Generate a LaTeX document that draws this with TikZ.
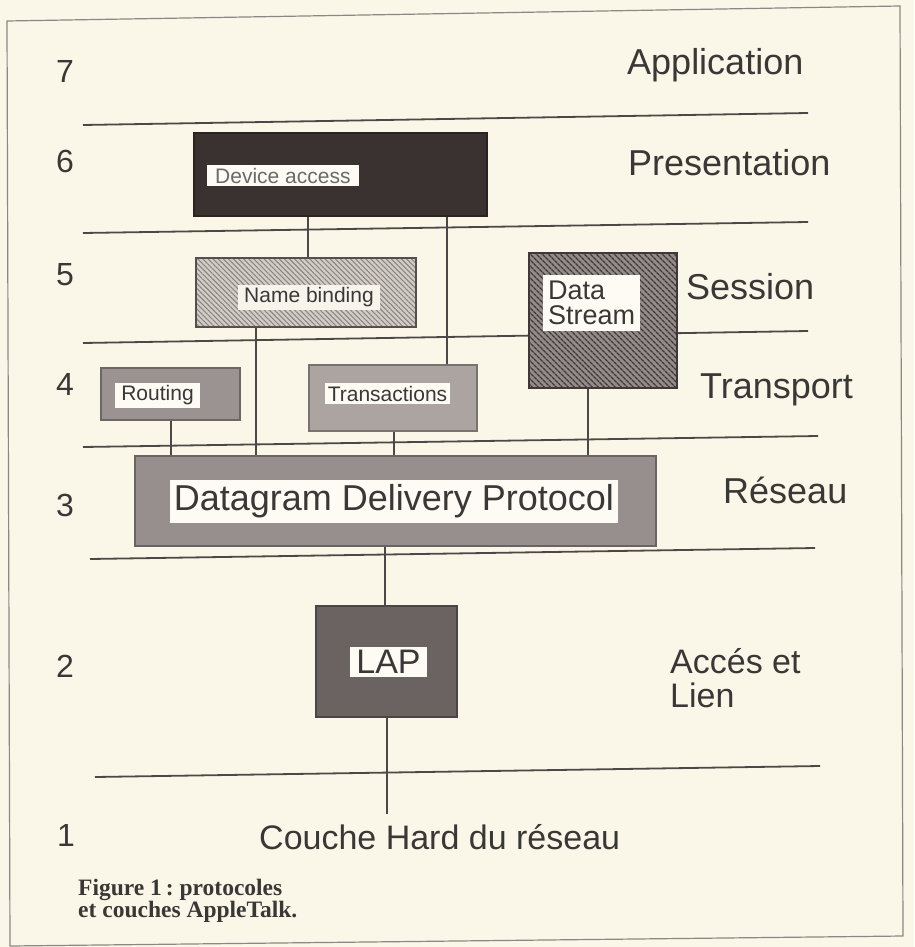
\documentclass[tikz,border=0pt]{standalone}
\usepackage{fontspec}
\setmainfont{Liberation Sans}
\newfontfamily\capfont{Liberation Serif}
\usetikzlibrary{patterns.meta}
\frenchspacing
\definecolor{paper}{HTML}{FAF7E8}
\definecolor{framecol}{HTML}{8A8784}
\definecolor{linecol}{HTML}{4D4848}
\definecolor{txt}{HTML}{3A3737}
\definecolor{lblbg}{HTML}{FDFBF3}
\definecolor{devfill}{HTML}{3A3230}
\definecolor{nbfill}{HTML}{D3CDC7}
\definecolor{nbline}{HTML}{8C8581}
\definecolor{dsfill}{HTML}{948C8A}
\definecolor{dsline}{HTML}{3F3836}
\definecolor{rtfill}{HTML}{9A9391}
\definecolor{trfill}{HTML}{ABA4A1}
\definecolor{ddpfill}{HTML}{978E8E}
\definecolor{lapfill}{HTML}{6B6262}
\tikzset{
  sep/.style={draw=linecol, line width=1.8pt},
  conn/.style={draw=linecol, line width=1.5pt},
  box/.style={draw=#1!70!black, line width=1.4pt, fill=#1, inner sep=0pt},
  lbl/.style={fill=lblbg, text=txt, inner ysep=3pt, inner xsep=6pt, font=\fontsize{21}{24}\selectfont},
  layer/.style={text=txt, inner sep=0pt, anchor=base west, font=\fontsize{36}{34}\selectfont},
  num/.style={text=txt, inner sep=0pt, anchor=base, font=\fontsize{32}{34}\selectfont},
}
\begin{document}
\begin{tikzpicture}[x=1pt,y=-1pt]
\fill[paper] (0,0) rectangle (914,947);
\useasboundingbox (0,0) rectangle (914,947);
% frame
\draw[framecol, line width=1.2pt] (7,21) -- (900,6) -- (903,936) -- (10,946) -- cycle;
% layer separators
\draw[sep] (83,125) -- (808,113);
\draw[sep] (83,233) -- (808,222);
\draw[sep] (83,343) -- (808,331);
\draw[sep] (83,447) -- (818,436);
\draw[sep] (90,559) -- (815,548);
\draw[sep] (95,777) -- (820,766);
% layer numbers
\node[num] (n7) at (65,83) {7};
\node[num] (n6) at (65,172) {6};
\node[num] (n5) at (65,285) {5};
\node[num] (n4) at (65,395) {4};
\node[num] (n3) at (65,516) {3};
\node[num] (n2) at (65,677) {2};
\node[num] (n1) at (66,846) {1};
% layer names
\node[layer] (l7) at (627,75) {Application};
\node[layer] (l6) at (628,175) {Presentation};
\node[layer] (l5) at (686,299) {Session};
\node[layer] (l4) at (700,398) {Transport};
\node[layer] (l3) at (723,503) {Réseau};
\node[layer, anchor=north west, align=left, font=\fontsize{34}{34}\selectfont] (l2) at (670,648) {Accés et\\Lien};
\node[text=txt, inner sep=0pt, anchor=base west, font=\fontsize{34}{34}\selectfont] (hard) at (259,849) {Couche Hard du réseau};
% boxes
\node[box=devfill, minimum width=293pt, minimum height=83pt] (dev) at (340.5,174.5) {};
\node[draw=nbline!60!black, line width=1.4pt, inner sep=0pt, minimum width=220pt, minimum height=69pt,
      preaction={fill=nbfill}, pattern={Lines[angle=-45,distance=3.6pt,line width=1.1pt]}, pattern color=nbline] (nb) at (306,292.5) {};
\node[draw=dsline, line width=1.4pt, inner sep=0pt, minimum width=148pt, minimum height=135pt,
      preaction={fill=dsfill}, pattern={Lines[angle=-45,distance=4pt,line width=1.6pt]}, pattern color=dsline] (ds) at (603,320.5) {};
\node[box=rtfill, minimum width=139pt, minimum height=52pt] (rt) at (170.5,394) {};
\node[box=trfill, minimum width=168pt, minimum height=66pt] (tr) at (393,398) {};
\node[box=ddpfill, minimum width=521pt, minimum height=90pt] (ddp) at (395.5,501) {};
\node[box=lapfill, minimum width=141pt, minimum height=111pt] (lap) at (386.5,661.5) {};
% connectors
\draw[conn] (308,0 |- dev.south) -- (308,0 |- nb.north);
\draw[conn] (447,0 |- dev.south) -- (447,0 |- tr.north);
\draw[conn] (256,0 |- nb.south) -- (256,0 |- ddp.north);
\draw[conn] (171,0 |- rt.south) -- (171,0 |- ddp.north);
\draw[conn] (394,0 |- tr.south) -- (394,0 |- ddp.north);
\draw[conn] (588,0 |- ds.south) -- (588,0 |- ddp.north);
\draw[conn] (385,0 |- ddp.south) -- (385,0 |- lap.north);
\draw[conn] (387,0 |- lap.south) -- ([yshift=10pt]387,0 |- hard.north);
% labels
\node[lbl, anchor=west, inner xsep=8pt, text=txt!75] (devl) at (207,175.5) {Device access};
\node[lbl, fill=lblbg!85!nbfill] (nbl) at (309,297.5) {Name binding};
\node[lbl, anchor=north west, align=left, inner xsep=5pt, inner ysep=3pt, minimum height=56pt,
      font=\fontsize{27}{25}\selectfont] (dsl) at (543,275) {Data\\Stream};
\node[lbl] (rtl) at (157.5,395.5) {Routing};
\node[lbl, inner xsep=3pt] (trl) at (387.5,393.5) {Transactions};
\node[lbl, inner xsep=4pt, inner ysep=4.5pt, font=\fontsize{36}{40}\selectfont] (ddpl) at (394,501.5) {Datagram Delivery Protocol};
\node[lbl, inner xsep=6.5pt, inner ysep=3pt, font=\fontsize{34}{40}\selectfont] (lapl) at (388.5,662) {LAP};
% caption
\node[text=txt, inner sep=0pt, anchor=base west, align=left,
      font=\capfont\bfseries\fontsize{23.5}{22}\selectfont] (cap) at (78,917) {Figure 1\,: protocoles\\et couches AppleTalk.};
\end{tikzpicture}
\end{document}
